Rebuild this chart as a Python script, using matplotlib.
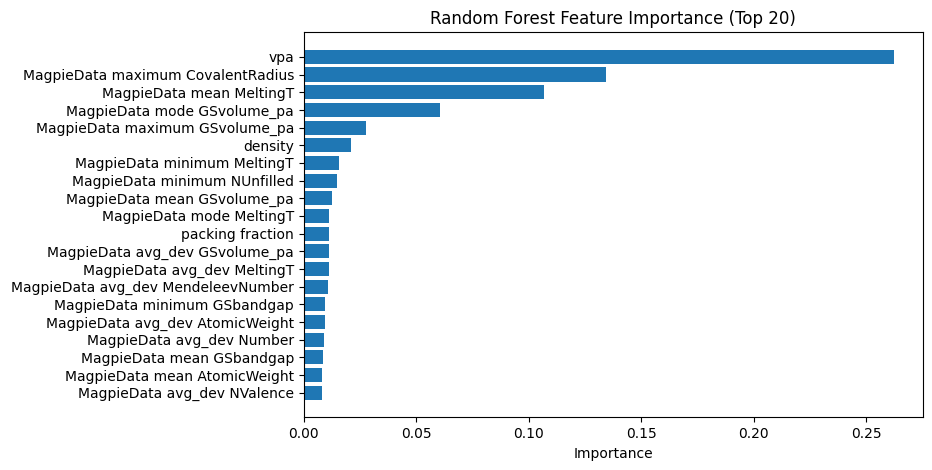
import numpy as np
import matplotlib
matplotlib.use('Agg')
import matplotlib.pyplot as plt

# feature names, top to bottom as drawn
features = [
    'vpa',
    'MagpieData maximum CovalentRadius',
    'MagpieData mean MeltingT',
    'MagpieData mode GSvolume_pa',
    'MagpieData maximum GSvolume_pa',
    'density',
    'MagpieData minimum MeltingT',
    'MagpieData minimum NUnfilled',
    'MagpieData mean GSvolume_pa',
    'MagpieData mode MeltingT',
    'packing fraction',
    'MagpieData avg_dev GSvolume_pa',
    'MagpieData avg_dev MeltingT',
    'MagpieData avg_dev MendeleevNumber',
    'MagpieData minimum GSbandgap',
    'MagpieData avg_dev AtomicWeight',
    'MagpieData avg_dev Number',
    'MagpieData mean GSbandgap',
    'MagpieData mean AtomicWeight',
    'MagpieData avg_dev NValence',
]

importances = [
    0.2621, 0.1344, 0.1070, 0.0607, 0.0277, 0.0211, 0.0157, 0.0148,
    0.0126, 0.0114, 0.0113, 0.0113, 0.0112, 0.0108, 0.0095, 0.0095,
    0.0090, 0.0086, 0.0082, 0.0082,
]

fig = plt.figure(figsize=(9.32, 4.70), dpi=100)
ax = fig.add_axes([303.7/932, 1 - 417.3/470, (923 - 303.7)/932, (417.3 - 32.3)/470])

# reverse so that the largest ends up on top
ax.barh(features[::-1], importances[::-1], color='#1f77b4')
ax.set_xlabel('Importance')
ax.set_title('Random Forest Feature Importance (Top 20)')

fig.savefig('out.png', dpi=100)
